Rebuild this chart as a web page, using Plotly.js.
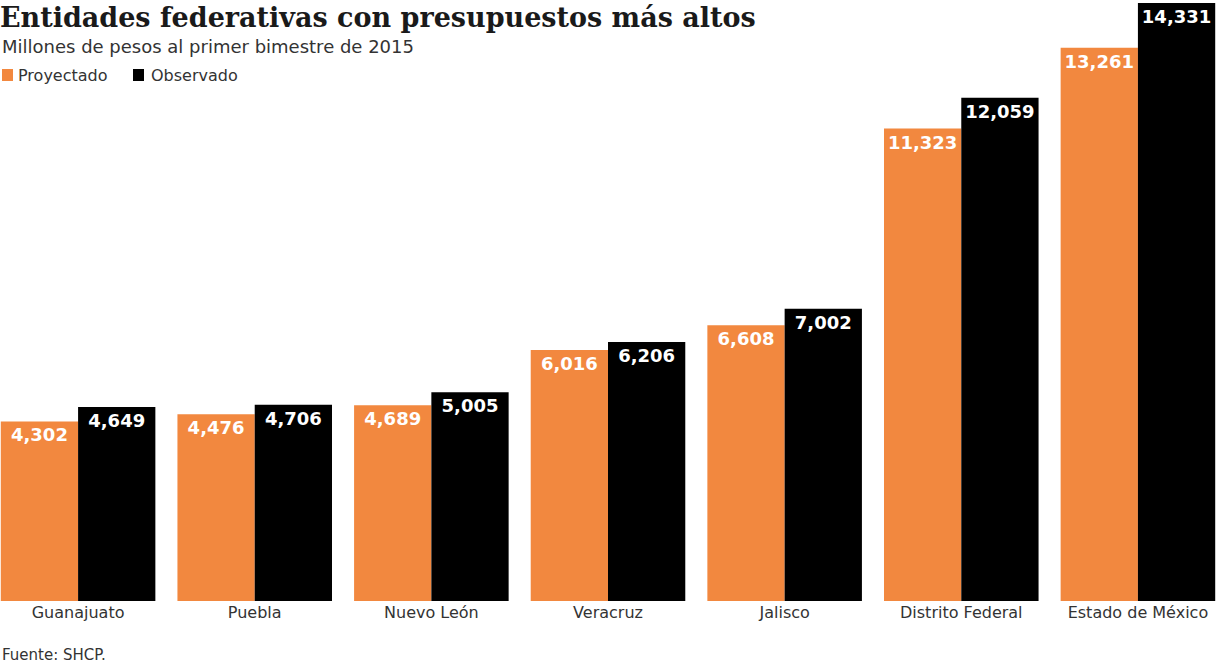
<!DOCTYPE html>
<html>
<head>
<meta charset="utf-8">
<script src="https://cdn.plot.ly/plotly-3.0.1.min.js"></script>
<style>html,body{margin:0;padding:0;background:#fff;}#chart{width:1216px;height:666px;}</style>
</head>
<body>
<div id="chart"></div>
<script>
const categories = ["Guanajuato","Puebla","Nuevo León","Veracruz","Jalisco","Distrito Federal","Estado de México"];
const proyectado = [4302,4476,4689,6016,6608,11323,13261];
const observado = [4649,4706,5005,6206,7002,12059,14331];
const seriesNames = ["Proyectado","Observado"];
const orange = "#F2883F";
const black = "#000000";

const labelFont = {family:"DejaVu Sans, sans-serif", size:18, color:"#ffffff", weight:"bold"};
const common = {
  type:"bar", x:categories, texttemplate:"<b>%{y:,}</b>", textposition:"inside",
  insidetextanchor:"end", textangle:0, insidetextfont:labelFont, hoverinfo:"skip",
  cliponaxis:false, constraintext:"none"
};
const traces = [
  Object.assign({}, common, {name:seriesNames[0], y:proyectado, marker:{color:orange, line:{width:0}}}),
  Object.assign({}, common, {name:seriesNames[1], y:observado, marker:{color:black, line:{width:0}}})
];

const sans = "DejaVu Sans, sans-serif";
const layout = {
  width:1216, height:666,
  margin:{l:0, r:0, t:0, b:65, pad:0},
  paper_bgcolor:"#ffffff", plot_bgcolor:"rgba(0,0,0,0)",
  barmode:"group", bargap:0.125, bargroupgap:0,
  showlegend:false,
  xaxis:{range:[-0.442,6.442], showgrid:false, zeroline:false, showline:false, ticks:"",
         tickfont:{family:sans, size:16, color:"#333333"}, fixedrange:true},
  yaxis:{range:[0,14403], visible:false, showgrid:false, zeroline:false, fixedrange:true},
  title:{text:"<b>Entidades federativas con presupuestos más altos</b>", x:0, xref:"paper", xanchor:"left",
         y:0.973, yref:"container", yanchor:"middle",
         font:{family:"DejaVu Serif, serif", size:27, color:"#1a1a1a"}},
  annotations:[
    {text:"Millones de pesos al primer bimestre de 2015", xref:"paper", yref:"paper", x:0, y:1-46/601, xanchor:"left", yanchor:"middle",
     showarrow:false, font:{family:sans, size:18, color:"#333333"}},
    {text:seriesNames[0], xref:"paper", yref:"paper", x:16/1216, y:1-75/601, xanchor:"left", yanchor:"middle",
     showarrow:false, font:{family:sans, size:16, color:"#333333"}},
    {text:seriesNames[1], xref:"paper", yref:"paper", x:149/1216, y:1-75/601, xanchor:"left", yanchor:"middle",
     showarrow:false, font:{family:sans, size:16, color:"#333333"}},
    {text:"Fuente: SHCP.", xref:"paper", yref:"paper", x:0, y:1-655/601, xanchor:"left", yanchor:"middle",
     showarrow:false, font:{family:sans, size:15, color:"#333333"}}
  ],
  shapes:[
    {type:"rect", xref:"paper", yref:"paper", x0:2/1216, x1:13/1216, y0:1-81/601, y1:1-69/601, fillcolor:orange, line:{width:0}},
    {type:"rect", xref:"paper", yref:"paper", x0:133/1216, x1:144/1216, y0:1-81/601, y1:1-69/601, fillcolor:black, line:{width:0}}
  ]
};

Plotly.newPlot("chart", traces, layout, {displayModeBar:false, staticPlot:true});
</script>
</body>
</html>
